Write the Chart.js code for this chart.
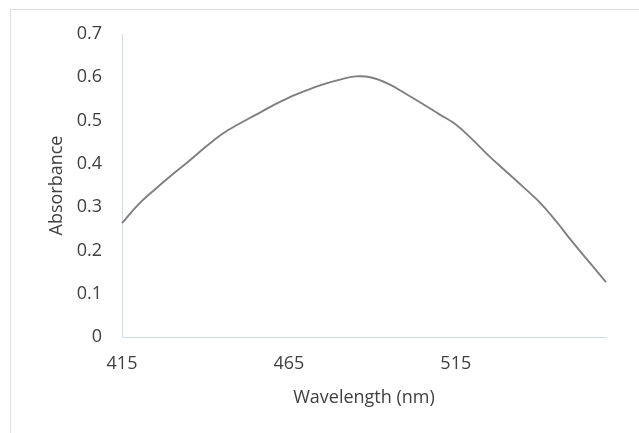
<!DOCTYPE html>
<html>
<head>
<meta charset="utf-8">
<script src="https://cdn.jsdelivr.net/npm/chart.js@4"></script>
<style>
html,body{margin:0;padding:0;background:#fff;}
#wrap{position:relative;width:639px;height:433px;overflow:hidden;}
#frame{position:absolute;left:10px;top:9px;width:700px;height:500px;border:1px solid #dcdfe6;box-sizing:border-box;}
canvas{position:absolute;left:0;top:0;}
</style>
</head>
<body>
<div id="wrap">
<div id="frame"></div>
<canvas id="c" width="639" height="433"></canvas>
</div>
<script>
const wavelengths = [415,420,425,430,435,440,445,450,455,460,465,470,475,480,485,490,495,500,505,510,515,520,525,530,535,540,545,550,555,560];
const absorbance = [0.263,0.307,0.342,0.375,0.406,0.439,0.469,0.492,0.513,0.534,0.553,0.569,0.583,0.594,0.602,0.599,0.584,0.562,0.539,0.515,0.491,0.456,0.418,0.383,0.348,0.312,0.268,0.219,0.173,0.127];
const xTickLabels = [415,465,515];
const yAxisTitle = 'Absorbance';
const xAxisTitle = 'Wavelength (nm)';

const FONT = 'Open Sans';
new Chart(document.getElementById('c'), {
  type: 'line',
  data: {
    labels: wavelengths.map(String),
    datasets: [{
      data: absorbance,
      borderColor: '#7f7f7f',
      borderWidth: 1.9,
      pointRadius: 0,
      tension: 0.4,
      fill: false
    }]
  },
  options: {
    responsive: false,
    animation: false,
    layout: { padding: { left: 46, top: 34, right: 33, bottom: 24 } },
    plugins: { legend: { display: false }, tooltip: { enabled: false } },
    scales: {
      x: {
        type: 'category',
        offset: false,
        grid: { display: false, drawTicks: false },
        border: { display: true, color: '#d5dbe5', width: 1 },
        ticks: {
          autoSkip: false, maxRotation: 0, padding: 16,
          color: '#404040', font: { family: FONT, size: 18 },
          callback: function(v, i) { const l = this.getLabelForValue(v); return xTickLabels.includes(Number(l)) ? l : ''; }
        },
        title: { display: true, text: xAxisTitle, color: '#404040', font: { family: FONT, size: 18 }, padding: 0 },
        afterFit: s => { s.height = 72; }
      },
      y: {
        min: 0, max: 0.7,
        grid: { display: false, drawTicks: false },
        border: { display: true, color: '#d5dbe5', width: 1 },
        ticks: { stepSize: 0.1, padding: 20, color: '#404040', font: { family: FONT, size: 18 } },
        title: { display: true, text: yAxisTitle, color: '#404040', font: { family: FONT, size: 18 }, padding: 0 },
        afterFit: s => { s.width = 76; }
      }
    }
  }
});
</script>
</body>
</html>
